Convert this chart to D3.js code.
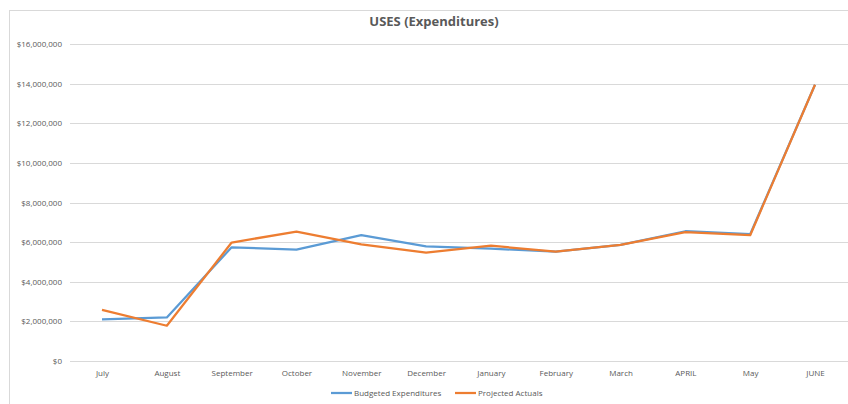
<!DOCTYPE html>
<html><head><meta charset="utf-8">
<script src="https://cdn.jsdelivr.net/npm/d3@7"></script>
<style>body{margin:0;background:#fff}svg{display:block}text{font-family:"Open Sans",sans-serif;fill:#595959 !important}</style>
</head><body><svg id="c" width="848" height="404"></svg>
<script>
const months = ["July","August","September","October","November","December","January","February","March","APRIL","May","JUNE"];
const budgeted = [2100000,2200000,5740000,5620000,6350000,5790000,5670000,5520000,5860000,6550000,6400000,13940000];
const projected = [2580000,1780000,5980000,6530000,5890000,5470000,5820000,5520000,5860000,6500000,6350000,13940000];
const yTicks = [0,2000000,4000000,6000000,8000000,10000000,12000000,14000000,16000000];
const seriesNames = ["Budgeted Expenditures","Projected Actuals"];
const colors = ["#5B9BD5","#ED7D31"];

const svg = d3.select("#c");
svg.append("rect").attr("x",9.5).attr("y",10.5).attr("width",900).attr("height",420)
  .attr("fill","none").attr("stroke","#d9d9d9");

const x = d3.scalePoint().domain(months).range([102,815]);
const y = d3.scaleLinear().domain([0,16000000]).range([361,44]);

const grid = svg.append("g");
yTicks.forEach(t=>{
  grid.append("line").attr("x1",70).attr("x2",848).attr("y1",Math.round(y(t))+0.5).attr("y2",Math.round(y(t))+0.5)
    .attr("stroke","#d9d9d9").attr("stroke-width",1);
});

const yAxis = svg.append("g").attr("transform","translate(70,0)")
  .call(d3.axisLeft(y).tickValues(yTicks).tickSize(0).tickPadding(8).tickFormat(d=>"$"+d3.format(",")(d)));
yAxis.select(".domain").remove();
yAxis.selectAll("text").style("font-size","8px");

const xAxis = svg.append("g").attr("transform","translate(0,361)")
  .call(d3.axisBottom(x).tickSize(0).tickPadding(9));
xAxis.select(".domain").remove();
xAxis.selectAll("text").style("font-size","8px");

const line = d3.line().x((d,i)=>x(months[i])).y(d=>y(d));
[budgeted,projected].forEach((s,k)=>{
  svg.append("path").datum(s).attr("d",line).attr("fill","none")
    .attr("stroke",colors[k]).attr("stroke-width",2.25).attr("stroke-linejoin","round");
});

svg.append("text").attr("x",434).attr("y",26).attr("text-anchor","middle")
  .style("font-size","13px").style("font-weight","bold").text("USES (Expenditures)");

const legX = [331,455];
seriesNames.forEach((n,k)=>{
  const g = svg.append("g");
  g.append("line").attr("x1",legX[k]).attr("x2",legX[k]+21).attr("y1",393).attr("y2",393)
    .attr("stroke",colors[k]).attr("stroke-width",2.25);
  g.append("text").attr("x",legX[k]+23).attr("y",396).style("font-size","8px").text(n);
});
</script></body></html>
